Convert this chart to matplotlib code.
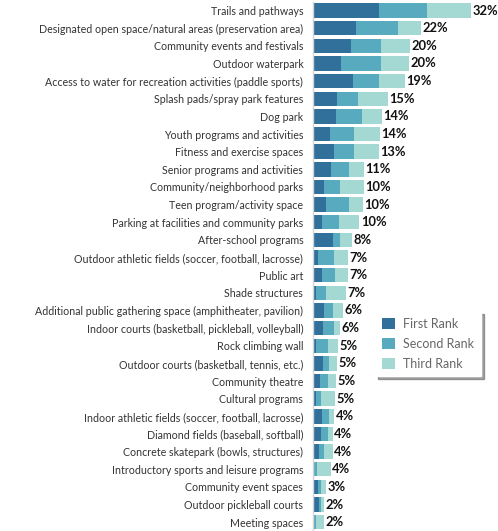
import numpy as np
import matplotlib.pyplot as plt

categories = [
    "Trails and pathways",
    "Designated open space/natural areas (preservation area)",
    "Community events and festivals",
    "Outdoor waterpark",
    "Access to water for recreation activities (paddle sports)",
    "Splash pads/spray park features",
    "Dog park",
    "Youth programs and activities",
    "Fitness and exercise spaces",
    "Senior programs and activities",
    "Community/neighborhood parks",
    "Teen program/activity space",
    "Parking at facilities and community parks",
    "After-school programs",
    "Outdoor athletic fields (soccer, football, lacrosse)",
    "Public art",
    "Shade structures",
    "Additional public gathering space (amphitheater, pavilion)",
    "Indoor courts (basketball, pickleball, volleyball)",
    "Rock climbing wall",
    "Outdoor courts (basketball, tennis, etc.)",
    "Community theatre",
    "Cultural programs",
    "Indoor athletic fields (soccer, football, lacrosse)",
    "Diamond fields (baseball, softball)",
    "Concrete skatepark (bowls, structures)",
    "Introductory sports and leisure programs",
    "Community event spaces",
    "Outdoor pickleball courts",
    "Meeting spaces",
]

# percent of respondents
first_rank = [13.3, 8.7, 7.7, 5.7, 8.0, 4.8, 4.7, 3.5, 4.3, 3.6,
              2.3, 2.6, 1.8, 4.0, 1.1, 1.8, 0.7, 2.2, 2.0, 0.6,
              2.0, 1.5, 0.7, 1.8, 1.6, 1.3, 0.3, 1.1, 1.3, 0.0]
second_rank = [9.8, 8.5, 6.1, 8.1, 5.3, 4.4, 5.2, 4.7, 4.1, 3.6,
               3.2, 4.6, 3.5, 1.5, 3.1, 2.7, 2.0, 1.8, 2.3, 2.4,
               1.3, 1.5, 0.9, 1.5, 1.4, 1.0, 0.5, 0.6, 0.4, 0.7]
third_rank = [8.9, 4.6, 5.9, 5.6, 5.3, 5.9, 4.1, 5.4, 4.9, 3.1,
              4.8, 2.9, 4.1, 2.3, 2.9, 2.6, 4.0, 2.0, 1.2, 2.0,
              1.6, 1.7, 2.9, 1.0, 1.0, 1.7, 2.8, 0.9, 0.6, 1.5]
total_labels = ["32%", "22%", "20%", "20%", "19%", "15%", "14%", "14%", "13%", "11%",
                "10%", "10%", "10%", "8%", "7%", "7%", "7%", "6%", "6%", "5%",
                "5%", "5%", "5%", "4%", "4%", "4%", "4%", "3%", "2%", "2%"]

c1, c2, c3 = "#31709a", "#58aabf", "#a3d8d3"

plt.rcParams['font.family'] = ['Lato', 'DejaVu Sans']

fig = plt.figure(figsize=(4.98, 5.31), dpi=100)
ax = fig.add_axes([313 / 498, 0, 1 - 313 / 498, 1 - 1.7 / 531])

y = np.arange(len(categories))
f = np.array(first_rank)
s = np.array(second_rank)
t = np.array(third_rank)

h = 0.82
ax.barh(y, f, height=h, color=c1, label="First Rank")
ax.barh(y, s, left=f, height=h, color=c2, label="Second Rank")
ax.barh(y, t, left=f + s, height=h, color=c3, label="Third Rank")

tot = f + s + t
for yi, xv, lab in zip(y, tot, total_labels):
    ax.text(xv + 0.3, yi, lab, va="center", ha="left", fontsize=9.3,
            fontweight="bold", color="#111111")

ax.set_ylim(len(categories) - 0.5, -0.5)
ax.set_xlim(0, 185 / 4.94)
ax.set_yticks(y)
ax.set_yticklabels(categories, fontsize=7.7, color="#333333")
ax.tick_params(axis="y", length=0, pad=7)
ax.set_xticks([])
for sp in ["top", "right", "bottom"]:
    ax.spines[sp].set_visible(False)
ax.spines["left"].set_color("#d4d4d4")
ax.spines["left"].set_linewidth(1)

leg = fig.legend(loc="upper left", bbox_to_anchor=(375 / 498, 1 - 311 / 531),
                 fontsize=9, frameon=True, fancybox=False, shadow=True,
                 handlelength=1.05, handleheight=1.05, labelspacing=0.62,
                 handletextpad=0.65, borderpad=0.55, borderaxespad=0)
leg.get_frame().set_edgecolor("white")
leg.get_frame().set_facecolor("white")
for txt in leg.get_texts():
    txt.set_color("#666666")

fig.savefig("out.png", dpi=100)
